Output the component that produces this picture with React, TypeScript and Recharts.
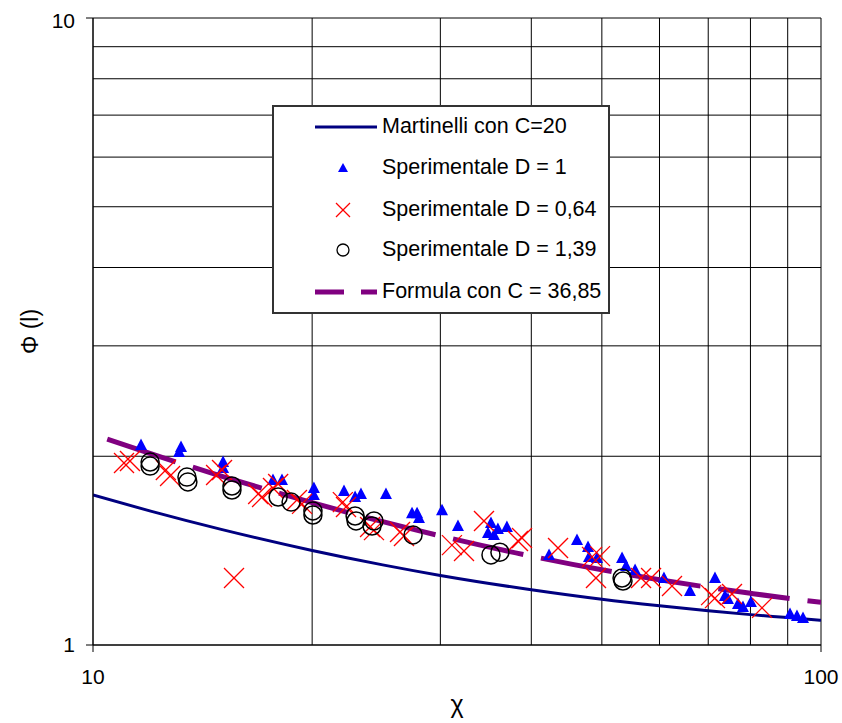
import React from 'react';
import { ComposedChart, Scatter, Line, XAxis, YAxis, CartesianGrid, Legend } from 'recharts';

const FONT = '"Liberation Sans", Arial, sans-serif';

// Curves
const curveX = [10, 12, 15, 20, 25, 30, 40, 50, 60, 70, 80, 90, 100];
const martinelliY = [1.735, 1.635, 1.529, 1.415, 1.342, 1.291, 1.225, 1.183, 1.155, 1.134, 1.118, 1.106, 1.095];
const formulaY = [2.167, 2.019, 1.86, 1.687, 1.573, 1.493, 1.386, 1.318, 1.271, 1.236, 1.209, 1.187, 1.17];

// Sperimentale D = 1 (triangles)
const d1X = [11.64, 13.21, 13.13, 15.09, 15.09, 17.67, 18.18, 20.11, 20.11, 22.12, 22.91, 23.34, 25.26, 27.43, 27.87, 28.04, 30.16, 31.72, 35.21, 34.88, 35.54, 35.99, 37.03, 42.31, 46.22, 47.86, 48.01, 49.24, 53.3, 53.98, 55.54, 60.85, 66.07, 71.51, 73.8, 74.51, 76.91, 78.13, 80.13, 90.67, 92.68, 94.47];
const d1Y = [2.084, 2.069, 2.031, 1.958, 1.916, 1.833, 1.833, 1.78, 1.735, 1.761, 1.722, 1.741, 1.741, 1.623, 1.623, 1.594, 1.641, 1.548, 1.565, 1.509, 1.498, 1.531, 1.542, 1.392, 1.47, 1.433, 1.382, 1.376, 1.376, 1.337, 1.317, 1.279, 1.219, 1.279, 1.197, 1.184, 1.162, 1.15, 1.171, 1.121, 1.112, 1.104];

// Sperimentale D = 0,64 (crosses)
const d064X = [11.03, 11.24, 12.59, 12.76, 14.76, 15.04, 15.62, 16.86, 17.07, 17.96, 17.67, 19.06, 19.37, 22.04, 22.26, 24.02, 24.32, 26.41, 26.74, 31.12, 32.33, 34.44, 38.35, 38.84, 43.53, 48.47, 49.71, 49.08, 56.6, 58.42, 62.42, 70.64, 71.51, 75.46, 82.98];
const d064Y = [1.951, 1.966, 1.902, 1.86, 1.867, 1.902, 1.279, 1.741, 1.722, 1.806, 1.78, 1.703, 1.679, 1.69, 1.66, 1.542, 1.525, 1.514, 1.492, 1.443, 1.412, 1.577, 1.465, 1.481, 1.428, 1.382, 1.386, 1.279, 1.279, 1.279, 1.242, 1.201, 1.188, 1.206, 1.146];

// Sperimentale D = 1,39 (circles)
const d139X = [11.98, 11.98, 13.46, 13.5, 15.52, 15.52, 17.96, 18.71, 20.05, 20.05, 22.91, 22.98, 24.32, 24.17, 27.52, 35.21, 36.22, 53.3, 53.46];
const d139Y = [1.958, 1.929, 1.853, 1.82, 1.793, 1.767, 1.722, 1.69, 1.636, 1.612, 1.606, 1.577, 1.577, 1.548, 1.498, 1.392, 1.406, 1.279, 1.265];

const xTicks = [10, 100];
const yTicks = [1, 10];
const xGrid = [10, 20, 30, 40, 50, 60, 70, 80, 90, 100];
const yGrid = [1, 2, 3, 4, 5, 6, 7, 8, 9, 10];

const legendLabels = ['Martinelli con C=20', 'Sperimentale D = 1', 'Sperimentale D = 0,64', 'Sperimentale D = 1,39', 'Formula con C = 36,85'];

const zip = (xs: number[], ys: number[]) => xs.map((x, i) => ({ x, y: ys[i] }));
const martinelliData = zip(curveX, martinelliY);
const formulaData = zip(curveX, formulaY);
const d1Data = zip(d1X, d1Y);
const d064Data = zip(d064X, d064Y);
const d139Data = zip(d139X, d139Y);

const Triangle = (p: any) => {
  const { cx, cy } = p;
  if (cx == null || cy == null) return null;
  return <polygon points={`${cx},${cy - 6.5} ${cx + 6},${cy + 5} ${cx - 6},${cy + 5}`} fill="#0000FF" />;
};
const Cross = (p: any) => {
  const { cx, cy } = p;
  if (cx == null || cy == null) return null;
  const s = 10;
  return (
    <g stroke="#FF0000" strokeWidth={1.3}>
      <line x1={cx - s} y1={cy - s} x2={cx + s} y2={cy + s} />
      <line x1={cx - s} y1={cy + s} x2={cx + s} y2={cy - s} />
    </g>
  );
};
const Ring = (p: any) => {
  const { cx, cy } = p;
  if (cx == null || cy == null) return null;
  return <circle cx={cx} cy={cy} r={9} fill="none" stroke="#000" strokeWidth={1.5} />;
};

const LegendIcon = ({ i }: { i: number }) => {
  const c = 31;
  const m = 20;
  return (
    <svg width={66} height={40} style={{ display: 'block' }}>
      {i === 0 && <line x1={3} y1={m} x2={65} y2={m} stroke="#000080" strokeWidth={3} />}
      {i === 1 && <polygon points={`${c},${m - 5} ${c + 5},${m + 4} ${c - 5},${m + 4}`} fill="#0000FF" />}
      {i === 2 && (
        <g stroke="#FF0000" strokeWidth={1.3}>
          <line x1={c - 7} y1={m - 7} x2={c + 7} y2={m + 7} />
          <line x1={c - 7} y1={m + 7} x2={c + 7} y2={m - 7} />
        </g>
      )}
      {i === 3 && <circle cx={c} cy={m} r={6} fill="none" stroke="#000" strokeWidth={1.3} />}
      {i === 4 && <line x1={3} y1={m} x2={65} y2={m} stroke="#800080" strokeWidth={5} strokeDasharray="29 17" />}
    </svg>
  );
};

const renderLegend = () => (
  <div
    style={{
      position: 'relative',
      width: 338,
      height: 209,
      boxSizing: 'border-box',
      border: '2px solid #333',
      background: '#fff',
      fontFamily: FONT,
      fontSize: 21.5,
      color: '#000',
    }}
  >
    {legendLabels.map((t, i) => (
      <div
        key={t}
        style={{
          position: 'absolute',
          left: 38,
          top: [22, 63, 105, 145, 187][i] - 20 - 2,
          height: 40,
          display: 'flex',
          alignItems: 'center',
          whiteSpace: 'nowrap',
        }}
      >
        <LegendIcon i={i} />
        <span style={{ marginLeft: 4, lineHeight: 1 }}>{t}</span>
      </div>
    ))}
  </div>
);

const YLabel = (props: any) => {
  const vb = props.viewBox || { x: 0, y: 10, width: 85, height: 627 };
  const x = vb.x + 22;
  const y = vb.y + vb.height / 2;
  return (
    <text x={x} y={y} transform={`rotate(-90 ${x} ${y})`} textAnchor="middle" dominantBaseline="central" fontFamily={FONT} fontSize={23} fill="#000">
      Φ (l)
    </text>
  );
};

const XLabel = (props: any) => {
  const vb = props.viewBox || { x: 85, y: 637, width: 728, height: 78 };
  const x = vb.x + vb.width / 2;
  const y = vb.y + 68;
  return (
    <text x={x} y={y} textAnchor="middle" fontFamily={FONT} fontSize={25} fill="#000">
      χ
    </text>
  );
};

export default function App() {
  return (
    <div style={{ position: 'absolute', left: 8, top: 8, width: 834, height: 715, overflow: 'hidden' }}>
      <ComposedChart width={834} height={715} margin={{ top: 10, right: 21, left: 0, bottom: 0 }} style={{ fontFamily: FONT }}>
        <CartesianGrid stroke="#000" strokeWidth={1} horizontalValues={yGrid} verticalValues={xGrid} />
        <XAxis
          dataKey="x"
          type="number"
          scale="log"
          domain={[10, 100]}
          allowDataOverflow
          ticks={xTicks}
          height={78}
          tickSize={7}
          tickMargin={17}
          tick={{ fill: '#000', fontSize: 21, fontFamily: FONT }}
          stroke="#000"
          label={<XLabel />}
        />
        <YAxis
          dataKey="y"
          type="number"
          scale="log"
          domain={[1, 10]}
          allowDataOverflow
          ticks={yTicks}
          width={85}
          tickSize={7}
          tickMargin={11}
          tick={{ fill: '#000', fontSize: 21, fontFamily: FONT }}
          stroke="#000"
          label={<YLabel />}
        />
        <Line data={martinelliData} dataKey="y" type="monotone" stroke="#000080" strokeWidth={3} dot={false} activeDot={false} isAnimationActive={false} />
        <Line data={formulaData} dataKey="y" type="monotone" stroke="#800080" strokeWidth={5} strokeDasharray="72 18" strokeDashoffset={75} dot={false} activeDot={false} isAnimationActive={false} />
        <Scatter data={d1Data} dataKey="y" shape={<Triangle />} isAnimationActive={false} />
        <Scatter data={d064Data} dataKey="y" shape={<Cross />} isAnimationActive={false} />
        <Scatter data={d139Data} dataKey="y" shape={<Ring />} isAnimationActive={false} />
        <Legend
          layout="vertical"
          align="center"
          verticalAlign="middle"
          content={renderLegend}
          wrapperStyle={{ left: 264, top: 97, width: 338, height: 209 }}
        />
      </ComposedChart>
    </div>
  );
}
